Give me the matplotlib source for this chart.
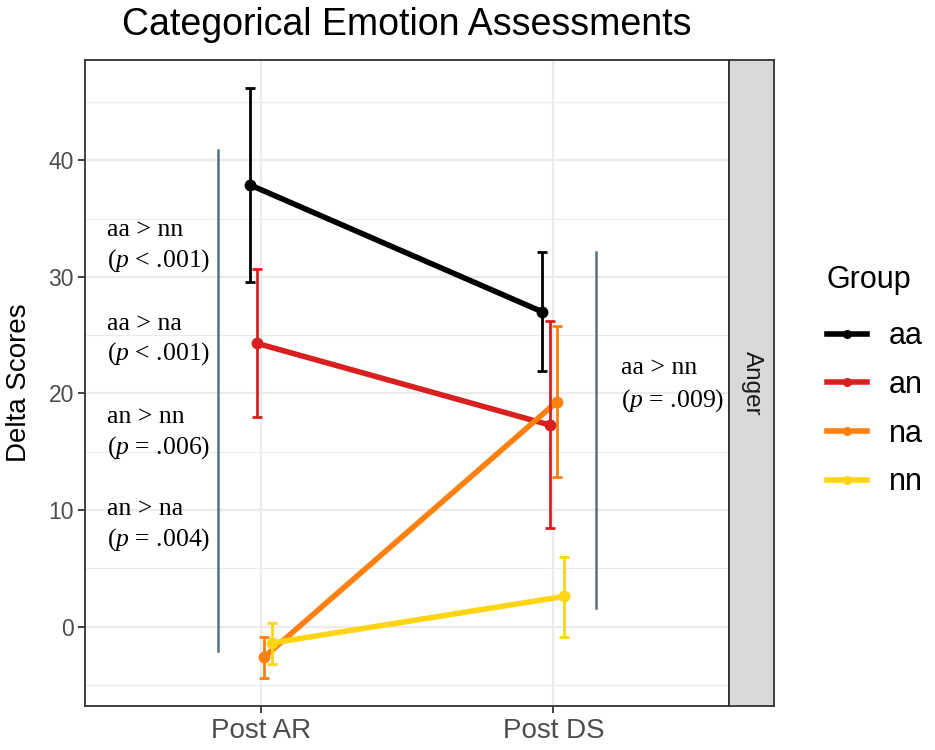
import matplotlib
matplotlib.use("Agg")
import matplotlib.pyplot as plt
from matplotlib.lines import Line2D

plt.rcParams["font.family"] = ["Liberation Sans", "DejaVu Sans"]
plt.rcParams["mathtext.fontset"] = "custom"
plt.rcParams["mathtext.it"] = "Liberation Serif:italic"
plt.rcParams["mathtext.rm"] = "Liberation Serif"

# ---- data ----
times = ["Post AR", "Post DS"]
groups = ["aa", "an", "na", "nn"]
colors = ["#000000", "#D7201F", "#FF7F0F", "#FFD511"]
mean_aa = [37.9, 27.0]
mean_an = [24.3, 17.3]
mean_na = [-2.6, 19.3]
mean_nn = [-1.4, 2.6]
upper_aa = [46.2, 32.1]
upper_an = [30.7, 26.2]
upper_na = [-0.9, 25.8]
upper_nn = [0.3, 6.0]
lower_aa = [29.6, 21.9]
lower_an = [18.0, 8.5]
lower_na = [-4.4, 12.8]
lower_nn = [-3.2, -0.9]
means = [mean_aa, mean_an, mean_na, mean_nn]
uppers = [upper_aa, upper_an, upper_na, upper_nn]
lowers = [lower_aa, lower_an, lower_na, lower_nn]

sig_left = ["aa > nn", "aa > na", "an > nn", "an > na"]
p_left = ["<", "<", "=", "="]
pval_left = [".001", ".001", ".006", ".004"]
sig_left_y = [34.0, 26.0, 18.0, 10.1]
bracket_left = [-2.1, 40.9]
sig_right = ["aa > nn"]
p_right = ["="]
pval_right = [".009"]
sig_right_y = [22.2]
bracket_right = [1.6, 32.1]

W, H = 935, 750
fig = plt.figure(figsize=(W / 100, H / 100), dpi=100)
L, R, B, T = 85, 729, 706, 60
ax = fig.add_axes([L / W, 1 - B / H, (R - L) / W, (B - T) / H])

dodge = [-0.0375, -0.0125, 0.0125, 0.0375]
xbase = [1, 2]
for g, c, m, u, lo, d in zip(groups, colors, means, uppers, lowers, dodge):
    xs = [x + d for x in xbase]
    ax.plot(xs, m, color=c, lw=4.0, zorder=3, solid_capstyle="butt")
    ax.errorbar(xs, m, yerr=[[mm - ll for mm, ll in zip(m, lo)], [uu - mm for uu, mm in zip(u, m)]],
                fmt="o", color=c, ms=7.5, elinewidth=2, capsize=3.5, capthick=2, zorder=4)

ax.set_xlim(0.4, 2.6)
ax.set_ylim(-6.8, 48.6)
ax.set_yticks([0, 10, 20, 30, 40])
ax.set_yticks([-5, 5, 15, 25, 35, 45], minor=True)
ax.set_xticks(xbase)
ax.set_xticklabels(times)
ax.grid(True, which="major", color="#EBEBEB", lw=1.6, zorder=0)
ax.grid(True, which="minor", axis="y", color="#EBEBEB", lw=0.8, zorder=0)
ax.set_axisbelow(True)
for s in ax.spines.values():
    s.set_color("#333333")
    s.set_linewidth(1.3)
ax.tick_params(axis="both", which="major", colors="#333333", labelcolor="#4D4D4D",
               length=5, width=1.3)
ax.tick_params(axis="y", which="major", labelsize=16.5, pad=3)
ax.tick_params(axis="x", which="major", labelsize=20, pad=4)
ax.tick_params(axis="y", which="minor", length=0)
ax.set_ylabel("Delta Scores", fontsize=20, color="black")
ax.yaxis.set_label_coords(-0.083, 0.5)

bar_color = "#5A7080"
ax.plot([0.853, 0.853], bracket_left, color=bar_color, lw=1.8, zorder=2)
ax.plot([2.147, 2.147], bracket_right, color=bar_color, lw=1.8, zorder=2)

serif = "Liberation Serif"
fs_sig = 18.5
for s, op, pv, y in zip(sig_left, p_left, pval_left, sig_left_y):
    ax.text(0.474, y, s, fontsize=fs_sig, family=serif, va="center", ha="left")
    ax.text(0.474, y - 2.6, "(" + r"$\it{p}$" + f" {op} {pv})", fontsize=fs_sig, family=serif,
            va="center", ha="left")
for s, op, pv, y in zip(sig_right, p_right, pval_right, sig_right_y):
    ax.text(2.232, y, s, fontsize=fs_sig, family=serif, va="center", ha="left")
    ax.text(2.232, y - 2.8, "(" + r"$\it{p}$" + f" {op} {pv})", fontsize=fs_sig, family=serif,
            va="center", ha="left")

# strip
sax = fig.add_axes([R / W, 1 - B / H, 45 / W, (B - T) / H])
sax.set_facecolor("#D9D9D9")
sax.set_xticks([]); sax.set_yticks([])
for s in sax.spines.values():
    s.set_color("#333333"); s.set_linewidth(1.3)
sax.text(0.5, 0.5, "Anger", rotation=-90, ha="center", va="center", fontsize=17.5,
         color="#1A1A1A", transform=sax.transAxes)

fig.text((L + R) / 2 / W, 1 - 35 / H, "Categorical Emotion Assessments", ha="center",
         va="baseline", fontsize=27)

handles = [Line2D([0], [0], color=c, lw=4.0, marker="o", ms=5.5) for c in colors]
leg = fig.legend(handles, groups, loc="upper left", bbox_to_anchor=(827 / W, 1 - 265 / H),
                 frameon=False, title="Group", fontsize=22, title_fontsize=22,
                 handlelength=1.3, handletextpad=0.72, labelspacing=0.61,
                 borderpad=0, borderaxespad=0, alignment="left")
leg._legend_box.sep = 19

fig.savefig("out.png", dpi=100)
